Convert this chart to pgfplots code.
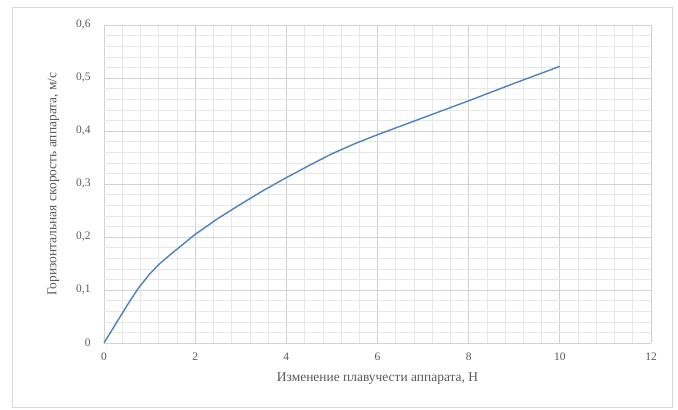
\documentclass[border=0pt]{standalone}
\usepackage{fontspec}
\setmainfont{Liberation Serif}
\usepackage{pgfplots}
\pgfplotsset{compat=1.18}
\definecolor{lineblue}{RGB}{79,129,189}
\definecolor{majgrid}{RGB}{210,210,210}
\definecolor{mingrid}{RGB}{232,232,232}
\definecolor{framegray}{RGB}{217,217,217}
\definecolor{textgray}{RGB}{89,89,89}
\begin{document}
\begin{tikzpicture}[x=1bp,y=1bp]
\useasboundingbox (-104,-66) rectangle (574,343);
\draw[framegray,line width=1bp] (-91,-64) rectangle (568,336);
\begin{axis}[
  at={(0,0)}, anchor=origin,
  scale only axis, width=547bp, height=318bp,
  xmin=0, xmax=12, ymin=0, ymax=0.6,
  xtick={0,2,...,12}, ytick={0,0.1,...,0.6},
  minor x tick num=4, minor y tick num=4,
  grid=both,
  major grid style={majgrid, line width=0.8bp},
  minor grid style={mingrid, line width=0.6bp},
  axis line style={draw=none},
  major tick length=0pt, minor tick length=0pt,
  /pgf/number format/assume math mode=true,
  /pgf/number format/use comma,
  /pgf/number format/fixed,
  /pgf/number format/precision=1,
  yticklabel style={font=\fontsize{11.5}{13}\selectfont, text=textgray, xshift=-10bp},
  xticklabel style={font=\fontsize{11.5}{13}\selectfont, text=textgray, yshift=-6bp},
  xlabel={Изменение плавучести аппарата, Н},
  ylabel={Горизонтальная скорость аппарата, м/с},
  xlabel style={font=\fontsize{13.5}{15}\selectfont, text=textgray, yshift=-6bp},
  ylabel style={font=\fontsize{13.5}{15}\selectfont, text=textgray, yshift=10bp},
  clip=false,
]
\draw[majgrid, line width=1bp] (axis cs:0,0) -- (axis cs:12,0);
\addplot[lineblue, line width=1.4bp, no marks] coordinates {
(0,0) (0.25,0.035) (0.5,0.07) (0.75,0.103) (1,0.13) (1.2,0.148) (1.5,0.17)
(2,0.205) (2.5,0.235) (3,0.262) (3.5,0.288) (4,0.312) (4.5,0.335) (5,0.357)
(5.5,0.376) (6,0.393) (7,0.425) (8,0.457) (9,0.49) (10,0.522)
};
\end{axis}
\end{tikzpicture}
\end{document}
